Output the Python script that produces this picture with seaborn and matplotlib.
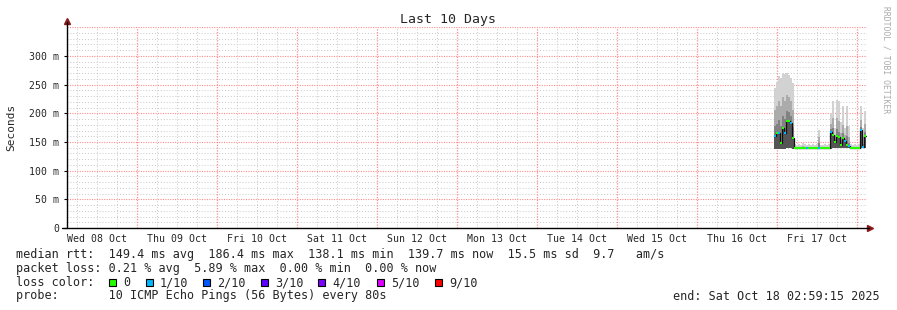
import numpy as np
import pandas as pd
import matplotlib
matplotlib.use("Agg")
import matplotlib.pyplot as plt
import seaborn as sns
from matplotlib.patches import Rectangle

sns.set_style("white")
plt.rcParams['font.family'] = ['DejaVu Sans Mono', 'DejaVu Sans']

# ---------------- data ----------------
bin_start = pd.date_range("2025-10-16 23:06", periods=46, freq="36min")
bin_width = pd.Timedelta("36min")

median_ms = [160, 165, 165, 148, 174, 165, 187, 187, 183, 157,
             139.6, 139.4, 139.5, 139.7, 139.5, 139.4, 139.8, 139.5, 139.6, 139.4, 139.5, 139.6,
             140.2,
             139.5, 139.4, 139.6, 139.5, 139.5,
             168, 163, 150, 160, 158, 145, 157, 152, 145, 143,
             139.5, 139.6, 139.4, 139.5, 139.7,
             171, 141, 160]
loss_pings = [1, 0, 1, 0, 0, 1, 0, 0, 1, 0,
              0, 0, 0, 0, 0, 0, 1, 0, 0, 0, 0, 0,
              1,
              0, 0, 0, 0, 0,
              1, 0, 0, 0, 0, 0, 0, 1, 0, 1,
              0, 0, 0, 0, 0,
              1, 1, 0]
rtt_max = [245, 255, 265, 262, 270, 268, 270, 266, 262, 252,
           146, 145, 147, 144, 148, 146, 145, 147, 144, 146, 145, 147,
           171,
           145, 144, 146, 145, 147,
           200, 221, 175, 224, 222, 185, 212, 175, 212, 178,
           146, 144, 147, 145, 146,
           212, 175, 204]
rtt_p80 = [205, 212, 222, 212, 228, 222, 232, 228, 222, 205,
           142, 142, 142, 142, 143, 142, 142, 142, 142, 142, 142, 142,
           158,
           142, 142, 142, 142, 142,
           182, 192, 162, 192, 186, 165, 180, 162, 178, 158,
           142, 142, 142, 142, 142,
           188, 158, 182]
rtt_p60 = [178, 182, 188, 178, 196, 190, 204, 202, 196, 176,
           141, 141, 141, 141, 141, 141, 141, 141, 141, 141, 141, 141,
           148,
           141, 141, 141, 141, 141,
           172, 175, 155, 172, 168, 152, 165, 155, 160, 149,
           141, 141, 141, 141, 141,
           176, 147, 168]
rtt_min = [138, 138, 137, 137, 137, 138, 139, 140, 140, 138,
           138.5, 138.5, 138.5, 138.5, 138.5, 138.5, 138.5, 138.5, 138.5, 138.5, 138.5, 138.5,
           138.5,
           138.5, 138.5, 138.5, 138.5, 138.5,
           138.5, 139, 139, 139, 139, 139, 139, 139, 139, 139,
           139, 139, 139, 139, 139,
           139, 139, 139]

loss_labels = ["0", "1/10", "2/10", "3/10", "4/10", "5/10", "9/10"]
loss_colors = ["#26ff00", "#00b8ff", "#0059ff", "#5e00ff", "#7e00ff", "#dd00ff", "#ff0000"]

ytick_vals = [0, 50, 100, 150, 200, 250, 300]
ytick_labels = ["0", "50 m", "100 m", "150 m", "200 m", "250 m", "300 m"]

t_start = pd.Timestamp("2025-10-08 02:59:15")
t_end = pd.Timestamp("2025-10-18 02:59:15")

legend_rows = [
    "median rtt:  149.4 ms avg  186.4 ms max  138.1 ms min  139.7 ms now  15.5 ms sd  9.7   am/s",
    "packet loss: 0.21 % avg  5.89 % max  0.00 % min  0.00 % now",
    "loss color:",
    "probe:       10 ICMP Echo Pings (56 Bytes) every 80s",
]
end_text = "end: Sat Oct 18 02:59:15 2025"

# ---------------- figure ----------------
W, H = 897, 310
fig = plt.figure(figsize=(W / 100, H / 100), dpi=100)
fig.patch.set_facecolor("white")
ax = fig.add_axes([67 / W, 1 - 228 / H, 800 / W, 201 / H])
ax.set_facecolor("white")
ax.set_xlim(t_start, t_end)
ax.set_ylim(0, 350.5)

# grid (minor grey first, major red on top)
dot = (0, (1, 2))
rdot = (0, (1, 1.2))
for v in range(10, 351, 10):
    if v % 50 != 0:
        ax.axhline(v, color="#c8c8c8", lw=0.7, ls=dot, zorder=0)
for t in pd.date_range("2025-10-08 06:00", "2025-10-18 00:00", freq="6h"):
    if t.hour != 0:
        ax.axvline(t, color="#c8c8c8", lw=0.7, ls=dot, zorder=0)
for v in range(50, 351, 50):
    ax.axhline(v, color="#ff8c8c", lw=0.8, ls=rdot, zorder=0.5)
for t in pd.date_range("2025-10-09 00:00", "2025-10-18 00:00", freq="D"):
    ax.axvline(t, color="#ff8c8c", lw=0.9, ls=rdot, zorder=0.5)

# smoke
edges = list(bin_start) + [bin_start[-1] + bin_width]
def ext(a):
    return np.array(list(a) + [a[-1]], dtype=float)
lo = ext(rtt_min)
ax.fill_between(edges, lo, ext(rtt_max), step="post", color="#d2d2d2", lw=0, zorder=2)
ax.fill_between(edges, lo, ext(rtt_p80), step="post", color="#ababab", lw=0, zorder=2)
ax.fill_between(edges, lo, ext(rtt_p60), step="post", color="#828282", lw=0, zorder=2)
ax.fill_between(edges, lo, ext(median_ms), step="post", color="#555555", lw=0, zorder=2)

# median: black step connectors + loss-coloured segments
med_df = pd.DataFrame({"t": edges, "median": ext(median_ms)})
sns.lineplot(data=med_df, x="t", y="median", drawstyle="steps-post", color="#111111",
             lw=0.9, ax=ax, zorder=3)
ax.hlines(median_ms, bin_start, bin_start + bin_width,
          colors=[loss_colors[l] for l in loss_pings], lw=1.5, zorder=4)
ax.set_xlabel("")
ax.set_ylabel("")

# axes styling
for s in ["top", "right", "left", "bottom"]:
    ax.spines[s].set_visible(False)
ax.plot([0, 0], [0, 1.025], transform=ax.transAxes, color="black", lw=1, clip_on=False, zorder=5)
ax.plot([-0.006, 1.002], [0, 0], transform=ax.transAxes, color="black", lw=1, clip_on=False, zorder=5)
ax.plot([0], [1.03], marker="^", ms=4, color="#8b1a1a", transform=ax.transAxes, clip_on=False)
ax.plot([1.004], [0], marker=">", ms=4, color="#8b1a1a", transform=ax.transAxes, clip_on=False)

ax.set_yticks(ytick_vals, ytick_labels)
ax.tick_params(axis="y", length=2.5, width=0.8, pad=3, labelsize=7.1, color="black", direction="out", left=True)
noons = pd.date_range("2025-10-08 12:00", periods=10, freq="D")
ax.set_xticks(noons, [t.strftime("%a %d %b") for t in noons])
ax.tick_params(axis="x", length=0, pad=4, labelsize=7.1)

# texts
fig.text(448 / W, 1 - 19 / H, "Last 10 Days", ha="center", va="center", fontsize=9.5)
fig.text(11 / W, 1 - 127.5 / H, "Seconds", ha="center", va="center", rotation=90, fontsize=8)
fig.text(886 / W, 1 - 60 / H, "RRDTOOL / TOBI OETIKER", ha="center", va="center",
         rotation=270, fontsize=5.8, color="#aaaaaa")

row_y = [254.5, 268.5, 282.5, 296]
for txt, y in zip(legend_rows, row_y):
    fig.text(16 / W, 1 - y / H, txt, ha="left", va="center", fontsize=8.5)
fig.text(880 / W, 1 - row_y[3] / H, end_text, ha="right", va="center", fontsize=8.5)

box_x = [109, 146, 203, 261, 318, 377, 435]
for bx, lab, col in zip(box_x, loss_labels, loss_colors):
    fig.add_artist(Rectangle((bx / W, 1 - (row_y[2] + 3.5) / H), 7 / W, 7 / H,
                             transform=fig.transFigure, facecolor=col,
                             edgecolor="black", lw=0.8))
    fig.text((bx + 14) / W, 1 - row_y[2] / H, lab, ha="left", va="center", fontsize=8.5)

fig.savefig("out.png", dpi=100, facecolor="white")
